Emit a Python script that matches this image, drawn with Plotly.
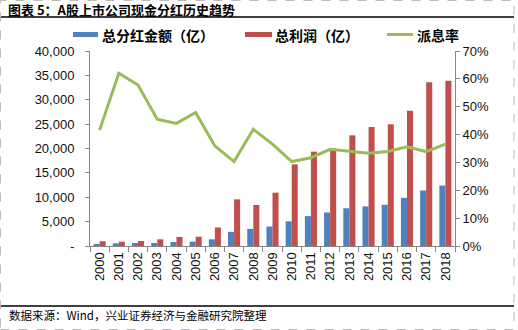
import plotly.graph_objects as go

years = [str(y) for y in range(2000, 2019)]
dividend = [400, 550, 600, 620, 810, 900, 1370, 2900, 3520, 4000, 5070, 6130, 6880, 7740, 8130, 8460, 9880, 11380, 12400]
profit = [970, 890, 1030, 1370, 1850, 1900, 3800, 9570, 8410, 10940, 16750, 19350, 19830, 22700, 24400, 24960, 27750, 33570, 33900]
payout = [0.416, 0.620, 0.578, 0.455, 0.440, 0.479, 0.359, 0.303, 0.419, 0.366, 0.303, 0.317, 0.347, 0.341, 0.333, 0.339, 0.356, 0.339, 0.366]

left_ticks = [0, 5000, 10000, 15000, 20000, 25000, 30000, 35000, 40000]
left_text = ["-", "5,000", "10,000", "15,000", "20,000", "25,000", "30,000", "35,000", "40,000"]
right_ticks = [0, 0.1, 0.2, 0.3, 0.4, 0.5, 0.6, 0.7]
right_text = ["0%", "10%", "20%", "30%", "40%", "50%", "60%", "70%"]

BLUE = "#4F81BD"
RED = "#C0504D"
GREEN = "#9BBB59"
AX = "#868686"
tick_font = dict(family="Liberation Sans, Arial, sans-serif", size=13, color="#111111")
cjk = "Noto Sans CJK SC, sans-serif"

fig = go.Figure()
fig.add_trace(go.Bar(x=years, y=dividend, name="总分红金额（亿）", marker=dict(color=BLUE, line=dict(width=0))))
fig.add_trace(go.Bar(x=years, y=profit, name="总利润（亿）", marker=dict(color=RED, line=dict(width=0))))
fig.add_trace(go.Scatter(x=years, y=payout, name="派息率", mode="lines", yaxis="y2",
                         line=dict(color=GREEN, width=3)))

fig.update_layout(
    width=518, height=330,
    margin=dict(l=90, r=63, t=51, b=84),
    paper_bgcolor="white", plot_bgcolor="white",
    barmode="group", bargap=0.37, bargroupgap=0,
    showlegend=False,
    xaxis=dict(type="category", showgrid=False, showline=True, linecolor=AX, linewidth=1,
               ticks="outside", tickson="boundaries", ticklen=5, tickcolor=AX,
               tickangle=-90, tickfont=dict(family="Liberation Sans, Arial, sans-serif", size=13, color="#111111")),
    yaxis=dict(range=[0, 40000], tickvals=left_ticks, ticktext=left_text, showgrid=False,
               showline=True, linecolor=AX, linewidth=1, ticks="outside", ticklen=4, tickcolor=AX,
               tickfont=tick_font, zeroline=False, ticklabelstandoff=8),
    yaxis2=dict(range=[0, 0.7], tickvals=right_ticks, ticktext=right_text, overlaying="y", side="right",
                showgrid=False, showline=True, linecolor=AX, linewidth=1, ticks="outside", ticklen=4,
                tickcolor=AX, tickfont=tick_font, zeroline=False),
)

def px_x(x):
    return (x - 90) / 365

def px_y(y):
    return (246 - y) / 195

shapes = [
    dict(type="line", xref="paper", yref="paper", x0=px_x(0), x1=px_x(514),
         y0=px_y(17), y1=px_y(17), line=dict(color="black", width=1.5)),
    dict(type="line", xref="paper", yref="paper", x0=px_x(0), x1=px_x(514),
         y0=px_y(306), y1=px_y(306), line=dict(color="black", width=1.5)),
    dict(type="rect", xref="paper", yref="paper", x0=px_x(0.5), x1=px_x(514),
         y0=px_y(329.5), y1=px_y(0.5), line=dict(color="#BBBBBB", width=1, dash="dash")),
    dict(type="rect", xref="paper", yref="paper", x0=px_x(73), x1=px_x(98), y0=px_y(37), y1=px_y(32),
         fillcolor=BLUE, line=dict(width=0)),
    dict(type="rect", xref="paper", yref="paper", x0=px_x(245), x1=px_x(272), y0=px_y(37), y1=px_y(32),
         fillcolor=RED, line=dict(width=0)),
    dict(type="line", xref="paper", yref="paper", x0=px_x(387), x1=px_x(413), y0=px_y(34.5), y1=px_y(34.5),
         line=dict(color=GREEN, width=3)),
]
fig.update_layout(shapes=shapes)

ann = [
    dict(text="<b>图表 5：A股上市公司现金分红历史趋势</b>", x=px_x(6), y=px_y(9), xanchor="left", yanchor="middle",
         font=dict(family=cjk, size=13, color="black")),
    dict(text="<b>总分红金额（亿）</b>", x=px_x(100), y=px_y(35), xanchor="left", yanchor="middle",
         font=dict(family=cjk, size=14, color="black")),
    dict(text="<b>总利润（亿）</b>", x=px_x(273), y=px_y(35), xanchor="left", yanchor="middle",
         font=dict(family=cjk, size=14, color="black")),
    dict(text="<b>派息率</b>", x=px_x(415), y=px_y(35), xanchor="left", yanchor="middle",
         font=dict(family=cjk, size=14, color="black")),
    dict(text="数据来源：Wind，兴业证券经济与金融研究院整理", x=px_x(7), y=px_y(315), xanchor="left", yanchor="middle",
         font=dict(family=cjk, size=11.5, color="black")),
]
for a in ann:
    a.update(xref="paper", yref="paper", showarrow=False)
fig.update_layout(annotations=ann)

fig.write_html("out.html")
